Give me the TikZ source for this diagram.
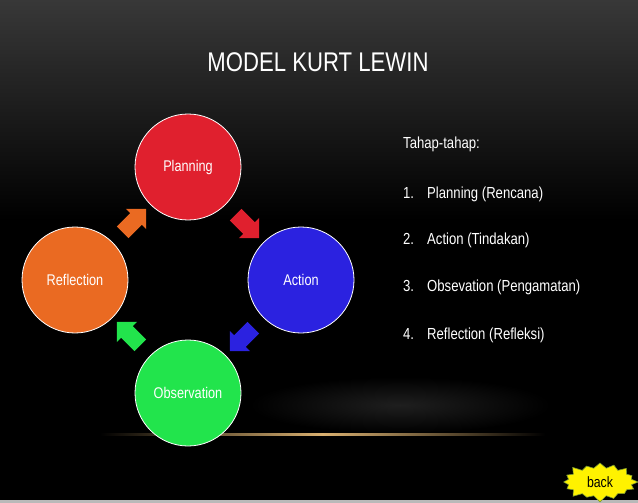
\documentclass[tikz,border=0pt]{standalone}
\usepackage{fontspec}
\setmainfont{Liberation Sans}[FakeStretch=0.82]
\usetikzlibrary{shapes.arrows, shapes.symbols, positioning, calc}
\definecolor{planred}{HTML}{E0202E}
\definecolor{actblue}{HTML}{2B22E0}
\definecolor{obsgreen}{HTML}{22E44C}
\definecolor{refloran}{HTML}{EA6A22}
\definecolor{topgray}{HTML}{383838}
\definecolor{goldline}{HTML}{D9B070}
\definecolor{burstedge}{HTML}{7A9A30}

\begin{document}
\begin{tikzpicture}[x=1pt, y=-1pt,
  phase/.style={circle, draw=white, line width=0.8pt, minimum size=106pt, inner sep=0pt, text=white, font=\fontsize{15.5}{18}\selectfont},
  turn/.style={single arrow, draw=none, minimum height=33pt, single arrow head extend=6pt, inner xsep=0pt, inner ysep=8pt},
  item/.style={anchor=base west, text=white, font=\fontsize{16}{19}\selectfont, inner sep=0pt},
]
% --- background ---
\useasboundingbox (0,0) rectangle (638,503);
\fill[black] (0,0) rectangle (638,503);
\shade[top color=topgray, bottom color=black] (0,0) rectangle (638,220);
\shade[inner color=black!88, outer color=black] (400,405) ellipse (150 and 28);
\shade[left color=black, right color=black, middle color=goldline] (100,433) rectangle (545,435.5);
\fill[gray!55] (0,500) rectangle (638,503);

% --- title ---
\node[text=white, font=\fontsize{27}{30}\selectfont] (title) at (318,62) {MODEL KURT LEWIN};

% --- cycle ---
\node[phase, fill=planred] (plan) at (188,167) {Planning};
\node[phase, fill=actblue] (act) at (301,280) {Action};
\node[phase, fill=obsgreen] (obs) at (188,393) {Observation};
\node[phase, fill=refloran] (refl) at (75,280) {Reflection};

\node[turn, fill=planred, rotate=-45] (pa) at ($(plan)!0.5!(act)$) {};
\node[turn, fill=actblue, rotate=-135] (ao) at ($(act)!0.5!(obs)$) {};
\node[turn, fill=obsgreen, rotate=135] (or) at ($(obs)!0.5!(refl)$) {};
\node[turn, fill=refloran, rotate=45] (rp) at ($(refl)!0.5!(plan)$) {};

% --- stages list ---
\node[item] (head) at (403,149) {Tahap-tahap:};
\node[item] (n1) at (403,198) {1.};
\node[item] (n2) at (403,244) {2.};
\node[item] (n3) at (403,291) {3.};
\node[item] (n4) at (403,339) {4.};
\node[item] (t1) at (427,198) {Planning (Rencana)};
\node[item] (t2) at (427,244) {Action (Tindakan)};
\node[item] (t3) at (427,291) {Obsevation (Pengamatan)};
\node[item] (t4) at (427,339) {Reflection (Refleksi)};

% --- back button ---
\node[starburst, starburst points=16, starburst point height=7pt, fill=yellow, draw=burstedge, line width=0.6pt, minimum width=78pt, minimum height=42pt, inner sep=0pt, font=\fontsize{15}{18}\selectfont] (back) at (600,482) {back};
\end{tikzpicture}
\end{document}
